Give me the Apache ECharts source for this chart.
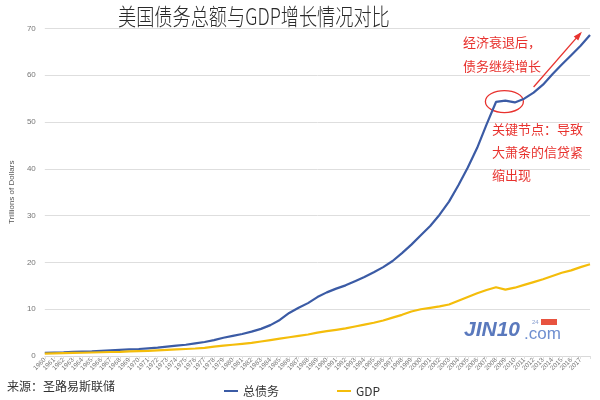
<!DOCTYPE html>
<html><head><meta charset="utf-8">
<script src="https://cdn.jsdelivr.net/npm/echarts@6/dist/echarts.min.js"></script>
<style>html,body{margin:0;padding:0;background:#fff}#c{width:600px;height:400px}</style>
</head><body><div id="c"></div>
<script>
var years = [];
for (var y = 1960; y <= 2018; y++) years.push(String(y));
var debtTotal = [0.7,0.75,0.8,0.9,0.95,1.0,1.1,1.2,1.3,1.4,
  1.5,1.65,1.8,2.0,2.2,2.4,2.7,3.0,3.4,3.9,
  4.3,4.7,5.2,5.8,6.6,7.7,9.2,10.3,11.3,12.6,
  13.6,14.4,15.1,16.0,16.9,17.9,19.0,20.3,22.0,23.8,
  25.8,27.8,30.2,33.0,36.5,40.3,44.5,49.5,54.3,54.6,
  54.2,55.0,56.3,58.0,60.2,62.3,64.3,66.3,68.6];
var gdp = [0.5,0.55,0.6,0.65,0.7,0.75,0.8,0.85,0.9,1.0,
  1.05,1.1,1.2,1.3,1.4,1.5,1.6,1.75,2.0,2.2,
  2.4,2.6,2.8,3.1,3.4,3.7,4.0,4.3,4.6,5.0,
  5.3,5.6,5.9,6.3,6.7,7.1,7.6,8.2,8.8,9.5,
  10.0,10.3,10.6,11.0,11.8,12.6,13.4,14.1,14.7,14.2,
  14.6,15.2,15.8,16.4,17.1,17.8,18.3,19.0,19.6];
var seriesNames = ['总债务','GDP'];
var titleText = '美国债务总额与GDP增长情况对比';
var yAxisName = 'Trillions of Dollars';
var sourceText = '来源：圣路易斯联储';
var note1 = ['经济衰退后，','债务继续增长'];
var note2 = ['关键节点：导致','大萧条的信贷紧','缩出现'];

var chart = echarts.init(document.getElementById('c'), null, {renderer:'canvas'});
var red = '#e8322e';
chart.setOption({
  animation:false,
  backgroundColor:'#fff',
  grid:{left:37, right:10, top:28.5, bottom:44, containLabel:false},
  legend:{left:219, top:380, itemGap:58, itemWidth:14, itemHeight:2, icon:'rect',
    data:seriesNames,
    textStyle:{fontSize:12, color:'#333', fontFamily:'Noto Sans CJK SC'}},
  xAxis:{type:'category', data:years, boundaryGap:false,
    axisLine:{lineStyle:{color:'#d9d9d9'}},
    axisTick:{show:true, interval:0, lineStyle:{color:'#e0e0e0'}, length:3},
    axisLabel:{rotate:45, fontSize:6.5, color:'#777', margin:3, interval:0,
      hideOverlap:false, showMinLabel:true, showMaxLabel:false,
      formatter:function(v){return v === '2018' ? '' : v;}}},
  yAxis:{type:'value', min:0, max:70, interval:10,
    name:yAxisName, nameLocation:'middle', nameGap:17, nameRotate:90,
    nameTextStyle:{fontSize:8, color:'#555'},
    axisLabel:{fontSize:8, color:'#777', margin:9},
    axisLine:{show:false}, axisTick:{show:false},
    splitLine:{lineStyle:{color:'#dedede'}}},
  series:[
    {name:seriesNames[0], type:'line', data:debtTotal, showSymbol:false,
      lineStyle:{color:'#3b5ba5', width:2.2}, itemStyle:{color:'#3b5ba5'}},
    {name:seriesNames[1], type:'line', data:gdp, showSymbol:false,
      lineStyle:{color:'#f4bd0b', width:2.2}, itemStyle:{color:'#f4bd0b'}}
  ]
});

var c = chart.convertToPixel({seriesIndex:0}, ['2009', 54.6]);
var a0 = chart.convertToPixel({seriesIndex:0}, ['2012', 57.5]);
var a1 = chart.convertToPixel({seriesIndex:0}, ['2017', 69]);
var g = [
  {type:'text', x:118, y:5, scaleX:0.79, style:{text:titleText, fill:'#2a2a2a', fontSize:23, fontFamily:'Noto Sans CJK SC', fontWeight:300}},
  {type:'ellipse', shape:{cx:c[0]-1, cy:c[1]+1, rx:19, ry:11}, style:{fill:'none', stroke:red, lineWidth:1.3}},
  {type:'line', shape:{x1:a0[0], y1:a0[1], x2:a1[0], y2:a1[1]}, style:{stroke:red, lineWidth:1.3}},
  {type:'polygon', shape:{points:(function(){
      var dx=a1[0]-a0[0], dy=a1[1]-a0[1], L=Math.sqrt(dx*dx+dy*dy); dx/=L; dy/=L;
      var px=-dy, py=dx, s=7, w=3;
      return [[a1[0]+dx*2,a1[1]+dy*2],[a1[0]-dx*s+px*w,a1[1]-dy*s+py*w],[a1[0]-dx*s-px*w,a1[1]-dy*s-py*w]];
    })()}, style:{fill:red}},
  {type:'text', left:463, top:30, style:{text:note1.join('\n'), fill:red, fontSize:13, lineHeight:24, fontFamily:'Noto Sans CJK SC'}},
  {type:'text', left:492, top:118, style:{text:note2.join('\n'), fill:red, fontSize:13, lineHeight:23, fontFamily:'Noto Sans CJK SC'}},
  {type:'text', left:7, top:380, style:{text:sourceText, fill:'#333', fontSize:12, fontFamily:'Noto Sans CJK SC'}},
  {type:'text', left:464, top:320, style:{text:'JIN10', fill:'#5a79bd', fontSize:21, fontWeight:'bold', fontStyle:'italic', fontFamily:'Liberation Sans'}},
  {type:'text', left:524, top:326, style:{text:'.com', fill:'#6f8fd0', fontSize:17, fontFamily:'Liberation Sans'}},
  {type:'text', left:532, top:319, style:{text:'24', fill:'#8aa0d0', fontSize:6, fontFamily:'Liberation Sans'}},
  {type:'rect', shape:{x:541, y:319, width:16, height:6}, style:{fill:'#e8533f'}}
];
chart.setOption({graphic:g});
</script></body></html>
